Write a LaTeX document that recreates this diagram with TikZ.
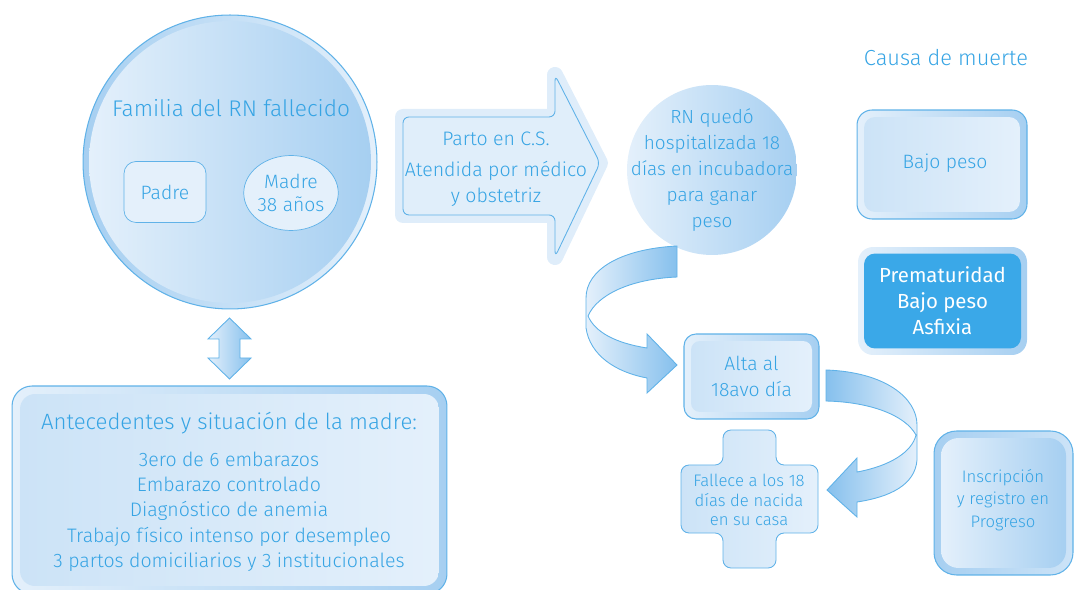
\documentclass[tikz,border=0pt]{standalone}
\usepackage{fontspec}
\setmainfont{Fira Sans}[UprightFont=* Light]
\newfontfamily\firareg{Fira Sans}
\usetikzlibrary{shapes.geometric}

\definecolor{txtblue}{RGB}{54,164,228}
\definecolor{edgeblue}{RGB}{96,178,232}
\definecolor{pale}{RGB}{228,240,251}
\definecolor{midblue}{RGB}{204,227,247}
\definecolor{deep}{RGB}{166,207,241}
\definecolor{deeper}{RGB}{134,192,237}
\definecolor{boxblue}{RGB}{58,168,232}

\tikzset{
  lbl/.style={text=txtblue, align=center, font=\fontsize{11}{14.5}\selectfont},
  ttl/.style={text=txtblue, align=center, font=\fontsize{12.5}{15}\selectfont},
  rim/.style={draw=edgeblue, line width=0.6pt, left color=pale, right color=deep},
  core/.style={left color=midblue, right color=pale},
  band/.style={draw=edgeblue, line width=0.5pt},
  halo/.style={draw=pale!80!midblue, line width=0.32cm, line join=round}
}

\begin{document}
\begin{tikzpicture}[x=0.02cm,y=-0.02cm]
  \useasboundingbox (0,0) rectangle (1074,590);

  % familia
  \node[circle, minimum size=5.88cm, draw=edgeblue, line width=0.6pt, left color=deep, right color=pale] (familia) at (230,162) {};
  \node[circle, minimum size=5.64cm, left color=pale, right color=deep] at (familia) {};
  \node[ttl, font=\fontsize{12.9}{15}\selectfont] (famtitle) at (231,108) {Familia del RN fallecido};
  \node[lbl, draw=edgeblue, fill=pale, rounded corners=0.24cm, minimum width=1.64cm, minimum height=1.22cm] (padre) at (165,192) {Padre};
  \node[lbl, ellipse, draw=edgeblue, fill=pale, minimum width=1.8cm, minimum height=1.5cm, inner sep=0pt, font=\fontsize{11}{13.5}\selectfont] (madre) at (291,193) {Madre\\38 años};

  % flecha doble
  \draw[band, left color=pale, right color=deeper] (229.5,318) -- (251,339) -- (240,339) -- (240,358) -- (251,358) -- (229.5,379)
    -- (208,358) -- (219,358) -- (219,339) -- (208,339) -- cycle;

  % antecedentes
  \node[rim, rounded corners=0.4cm, minimum width=8.7cm, minimum height=4.16cm] (antec) at (229.5,490) {};
  \node[core, rounded corners=0.3cm, minimum width=8.38cm, minimum height=3.84cm] at (antec) {};
  \node[ttl, font=\fontsize{12.6}{15}\selectfont] (antectitle) at (229,423) {Antecedentes y situación de la madre:};
  \node[lbl, font=\fontsize{11.1}{14.4}\selectfont] (antecitems) at (229,511.5) {3ero de 6 embarazos\\Embarazo controlado\\Diagnóstico de anemia\\Trabajo físico intenso por desempleo\\3 partos domiciliarios y 3 institucionales};

  % parto
  \draw[halo] (403,117) -- (555,117) -- (555,75) -- (600,163) -- (555,257) -- (555,215) -- (403,215) -- cycle;
  \draw[band, fill=pale!85!midblue, rounded corners=0.12cm] (403,117) -- (555,117) -- (555,75) -- (600,163) -- (555,257) -- (555,215) -- (403,215) -- cycle;
  \node[lbl, font=\fontsize{11.1}{14.8}\selectfont] (partotitle) at (496,139) {Parto en C.S.};
  \node[lbl, font=\fontsize{11.1}{14.8}\selectfont] (parto) at (496,184) {Atendida por médico\\y obstetriz};

  % hospitalizada
  \node[circle, minimum size=3.4cm, left color=pale, right color=deep] (hosp) at (712,170) {};
  \node[lbl, font=\fontsize{10.8}{14.8}\selectfont] at (hosp) {RN quedó\\hospitalizada 18\\días en incubadora\\para ganar\\peso};

  % flecha curva 1
  \draw[band, left color=pale, right color=deeper] (677,246) .. controls (620,249) and (586,270) .. (586,298) -- (586,328)
    .. controls (590,355) and (615,372) .. (647,378) -- (647,393) -- (677,365) -- (647,334) -- (647,348)
    .. controls (615,343) and (595,332) .. (588,316) .. controls (597,295) and (630,279) .. (677,277) -- cycle;

  % alta
  \node[rim, rounded corners=0.24cm, minimum width=2.7cm, minimum height=1.7cm] (alta) at (751.5,376.5) {};
  \node[core, rounded corners=0.18cm, minimum width=2.42cm, minimum height=1.42cm, lbl] at (alta) {Alta al\\18avo día};

  % flecha curva 2
  \draw[band, left color=deeper, right color=pale] (826,370) .. controls (885,372) and (917,398) .. (917,425) -- (917,460)
    .. controls (915,485) and (890,497) .. (857,502) -- (857,517) -- (827,490) -- (857,458) -- (857,472)
    .. controls (890,466) and (912,452) .. (916,435) .. controls (905,415) and (870,402) .. (826,401) -- cycle;

  % fallece
  \draw[band, left color=midblue, right color=pale, rounded corners=0.16cm] (723,430) -- (776,430) -- (776,465) -- (818,465)
    -- (818,533) -- (776,533) -- (776,568) -- (723,568) -- (723,533) -- (681,533) -- (681,465) -- (723,465) -- cycle;
  \node[lbl, font=\fontsize{9.5}{11.1}\selectfont] (fallece) at (749,500) {Fallece a los 18\\días de nacida\\en su casa};

  % causa de muerte
  \node[ttl, font=\fontsize{12.4}{14}\selectfont] (causa) at (946,58) {Causa de muerte};
  \node[rim, rounded corners=0.3cm, minimum width=3.4cm, minimum height=2.18cm] (bajo) at (942,164.5) {};
  \node[core, rounded corners=0.22cm, minimum width=3.12cm, minimum height=1.9cm] at (bajo) {};
  \node[lbl] at (945,163) {Bajo peso};

  \node[rounded corners=0.3cm, minimum width=3.38cm, minimum height=2.16cm, left color=pale, right color=deep] (prema) at (942.5,301) {};
  \node[rounded corners=0.22cm, minimum width=3.14cm, minimum height=1.9cm, fill=boxblue, text=white, align=center,
    font=\firareg\fontsize{11.6}{14.8}\selectfont] at (prema) {Prematuridad\\Bajo peso\\Asfixia};

  % inscripcion
  \node[rim, left color=deep, right color=midblue, rounded corners=0.45cm, minimum width=2.78cm, minimum height=2.88cm] (inscr) at (1003.5,503) {};
  \node[rounded corners=0.35cm, minimum width=2.5cm, minimum height=2.6cm, left color=pale, right color=deep] at (inscr) {};
  \node[lbl, font=\fontsize{9.5}{12.8}\selectfont] at (1003,500) {Inscripción\\y registro en\\Progreso};
\end{tikzpicture}
\end{document}
